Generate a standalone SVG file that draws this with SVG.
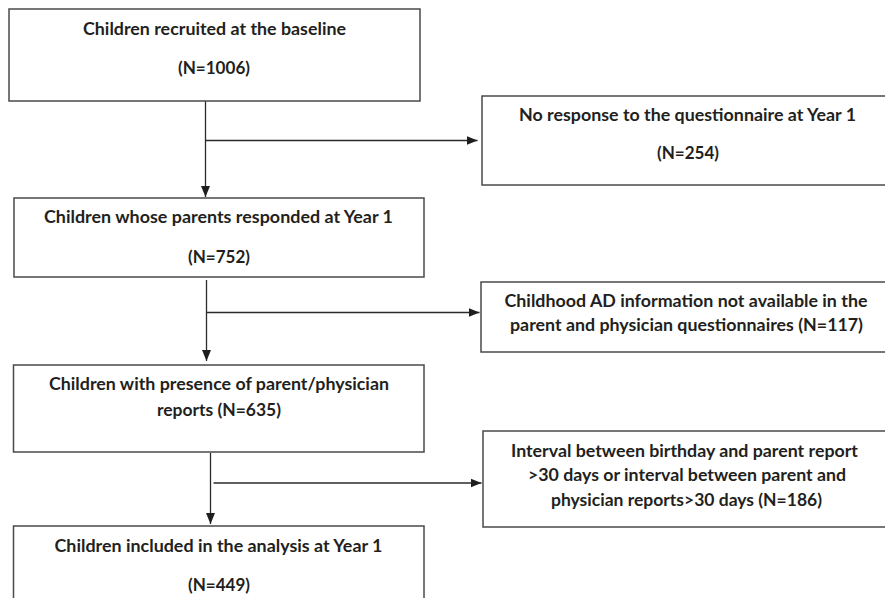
<svg xmlns="http://www.w3.org/2000/svg" width="885" height="598" viewBox="0 0 885 598">
<defs>
<style>
.box{fill:#fff;stroke:#4a4a4a;stroke-width:1.5}
.t{font-family:Lato,"Liberation Sans",Arial,sans-serif;font-weight:bold;font-size:16.5px;fill:#231f20;text-anchor:middle}
.c{fill:none;stroke:#2b2b2b;stroke-width:1.3}
</style>
<marker id="ah" markerUnits="userSpaceOnUse" markerWidth="12" markerHeight="10" refX="11" refY="5" orient="auto">
<path d="M0,0.5 L11,5 L0,9.5 Z" fill="#1e1e1e"/>
</marker>
</defs>
<rect width="885" height="598" fill="#fff"/>
<g id="connectors">
<line class="c" x1="205.5" y1="101" x2="205.5" y2="197" marker-end="url(#ah)"/>
<line class="c" x1="205.5" y1="140.5" x2="477.5" y2="140.5" marker-end="url(#ah)"/>
<line class="c" x1="206.5" y1="280" x2="206.5" y2="361" marker-end="url(#ah)"/>
<line class="c" x1="206.5" y1="312.5" x2="479.5" y2="312.5" marker-end="url(#ah)"/>
<line class="c" x1="210.5" y1="453" x2="210.5" y2="524" marker-end="url(#ah)"/>
<line class="c" x1="213.5" y1="483" x2="481.5" y2="483" marker-end="url(#ah)"/>
</g>
<g id="n1">
<rect class="box" x="9" y="9" width="411" height="92"/>
<text class="t" x="214.5" y="35" textLength="263" lengthAdjust="spacingAndGlyphs">Children recruited at the baseline</text>
<text class="t" x="214" y="73.5" textLength="72" lengthAdjust="spacingAndGlyphs">(N=1006)</text>
</g>
<g id="n2">
<rect class="box" x="482" y="96" width="410" height="89"/>
<text class="t" x="687.5" y="121" textLength="337" lengthAdjust="spacingAndGlyphs">No response to the questionnaire at Year 1</text>
<text class="t" x="688" y="159" textLength="62" lengthAdjust="spacingAndGlyphs">(N=254)</text>
</g>
<g id="n3">
<rect class="box" x="14" y="198" width="410" height="79"/>
<text class="t" x="218.5" y="223" textLength="349" lengthAdjust="spacingAndGlyphs">Children whose parents responded at Year 1</text>
<text class="t" x="219" y="262.5" textLength="62" lengthAdjust="spacingAndGlyphs">(N=752)</text>
</g>
<g id="n4">
<rect class="box" x="481" y="282" width="411" height="70"/>
<text class="t" x="686" y="307" textLength="363" lengthAdjust="spacingAndGlyphs">Childhood AD information not available in the</text>
<text class="t" x="686.5" y="331" textLength="353" lengthAdjust="spacingAndGlyphs">parent and physician questionnaires (N=117)</text>
</g>
<g id="n5">
<rect class="box" x="13.5" y="365" width="410.5" height="87"/>
<text class="t" x="219" y="390" textLength="340" lengthAdjust="spacingAndGlyphs">Children with presence of parent/physician</text>
<text class="t" x="219" y="416" textLength="124" lengthAdjust="spacingAndGlyphs">reports (N=635)</text>
</g>
<g id="n6">
<rect class="box" x="483" y="431" width="409" height="96"/>
<text class="t" x="684.5" y="457" textLength="347" lengthAdjust="spacingAndGlyphs">Interval between birthday and parent report</text>
<text class="t" x="687" y="481" textLength="318" lengthAdjust="spacingAndGlyphs">&gt;30 days or interval between parent and</text>
<text class="t" x="686.5" y="506" textLength="271" lengthAdjust="spacingAndGlyphs">physician reports&gt;30 days (N=186)</text>
</g>
<g id="n7">
<rect class="box" x="13.5" y="526" width="410.5" height="80"/>
<text class="t" x="218.5" y="552" textLength="328" lengthAdjust="spacingAndGlyphs">Children included in the analysis at Year 1</text>
<text class="t" x="219" y="591" textLength="62" lengthAdjust="spacingAndGlyphs">(N=449)</text>
</g>
</svg>
